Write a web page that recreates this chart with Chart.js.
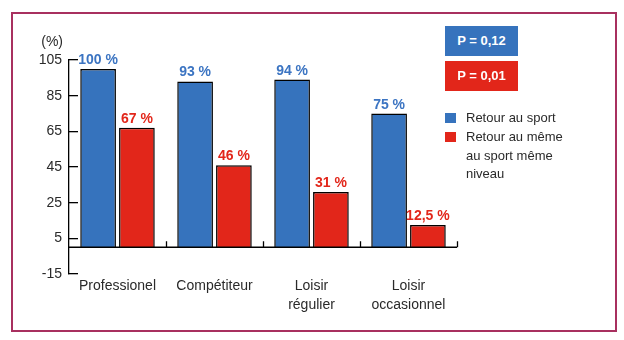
<!DOCTYPE html>
<html><head><meta charset="utf-8">
<script src="https://cdn.jsdelivr.net/npm/chart.js@4/dist/chart.umd.min.js"></script>
<style>
html,body{margin:0;padding:0;background:#fff;}
#wrap{position:relative;width:624px;height:340px;overflow:hidden;font-family:"Liberation Sans",Arial,sans-serif;}
#frame{position:absolute;left:11px;top:12px;width:602px;height:316px;border:2px solid #a8305f;}
canvas{position:absolute;left:0;top:0;}
.pbox{position:absolute;left:445px;width:73px;height:30px;color:#fff;font-weight:bold;font-size:13px;text-align:center;line-height:30px;}
.leg{position:absolute;left:466px;font-size:13px;line-height:18.5px;color:#2a2a2a;}
.sq{position:absolute;left:445px;width:11px;height:10px;}
</style></head>
<body><div id="wrap">
<div id="frame"></div>
<canvas id="c" width="624" height="340"></canvas>
<div class="pbox" id="p1" style="top:26px;background:#3673bd"></div>
<div class="pbox" id="p2" style="top:61px;background:#e2261a"></div>
<div class="sq" style="top:113px;background:#3673bd"></div>
<div class="leg" id="l1" style="top:109px"></div>
<div class="sq" style="top:132px;background:#e2261a"></div>
<div class="leg" id="l2" style="top:128px"></div>
</div>
<script>
const categories = [["Professionel"], ["Compétiteur"], ["Loisir", "régulier"], ["Loisir", "occasionnel"]];
const retourSport = [100, 93, 94, 75];
const retourMeme = [67, 46, 31, 12.5];
const labelsSport = ["100 %", "93 %", "94 %", "75 %"];
const labelsMeme = ["67 %", "46 %", "31 %", "12,5 %"];
const yTicks = [-15, 5, 25, 45, 65, 85, 105];
const seriesNames = ["Retour au sport", "Retour au même<br>au sport même<br>niveau"];
const pValues = ["P = 0,12", "P = 0,01"];
const unitLabel = "(%)";

const BLUE = '#3673bd', RED = '#e2261a';
const FONT = '"Liberation Sans", Arial, sans-serif';

document.getElementById('p1').textContent = pValues[0];
document.getElementById('p2').textContent = pValues[1];
document.getElementById('l1').innerHTML = seriesNames[0];
document.getElementById('l2').innerHTML = seriesNames[1];

const customDraw = {
  id: 'customDraw',
  afterDatasetsDraw(chart) {
    const {ctx, scales: {x, y}} = chart;
    const y0 = y.getPixelForValue(0);
    const half = (x.getPixelForValue(1) - x.getPixelForValue(0)) / 2;
    ctx.save();
    ctx.strokeStyle = '#000';
    ctx.lineWidth = 1.3;
    ctx.beginPath();
    ctx.moveTo(x.left, y0); ctx.lineTo(x.right, y0);
    for (let i = 0; i < categories.length; i++) {
      const px = Math.round(x.getPixelForValue(i) + half) + 0.5;
      ctx.moveTo(px, y0); ctx.lineTo(px, y0 - 6);
    }
    ctx.stroke();
    ctx.font = 'bold 14px ' + FONT;
    ctx.textAlign = 'center';
    ctx.textBaseline = 'alphabetic';
    const lbls = [labelsSport, labelsMeme];
    const cols = ['#3b74c2', '#e2261a'];
    chart.data.datasets.forEach((ds, di) => {
      chart.getDatasetMeta(di).data.forEach((bar, i) => {
        ctx.fillStyle = cols[di];
        ctx.fillText(lbls[di][i], bar.x, bar.y - 5);
      });
    });
    ctx.font = '14px ' + FONT;
    ctx.fillStyle = '#2a2a2a';
    ctx.textAlign = 'right';
    ctx.textBaseline = 'middle';
    ctx.fillText(unitLabel, y.right - 6, 42);
    ctx.restore();
  }
};

new Chart(document.getElementById('c'), {
  type: 'bar',
  data: {
    labels: categories,
    datasets: [
      {label: 'Retour au sport', data: retourSport, backgroundColor: BLUE, borderColor: '#000', borderWidth: 1.5, categoryPercentage: 0.8, barPercentage: 0.92},
      {label: 'Retour au même au sport même niveau', data: retourMeme, backgroundColor: RED, borderColor: '#000', borderWidth: 1.5, categoryPercentage: 0.8, barPercentage: 0.92}
    ]
  },
  options: {
    responsive: false,
    animation: false,
    devicePixelRatio: 1,
    layout: {padding: {top: 60, right: 167, left: 0, bottom: 0}},
    plugins: {legend: {display: false}, tooltip: {enabled: false}},
    scales: {
      x: {
        grid: {display: false, drawTicks: false},
        border: {display: false},
        ticks: {color: '#2a2a2a', font: {size: 14, family: FONT, lineHeight: 1.35}, padding: 3, maxRotation: 0, autoSkip: false},
        afterFit(s) { s.height = 66; }
      },
      y: {
        min: -15, max: 105,
        afterBuildTicks(s) { s.ticks = yTicks.map(v => ({value: v})); },
        grid: {drawOnChartArea: false, drawTicks: true, tickLength: -9, color: '#000', lineWidth: 1.3},
        border: {color: '#000', width: 1.3},
        ticks: {color: '#2a2a2a', font: {size: 14, family: FONT}, padding: 16},
        afterFit(s) { s.width = 69; }
      }
    }
  },
  plugins: [customDraw]
});
</script>
</body></html>
